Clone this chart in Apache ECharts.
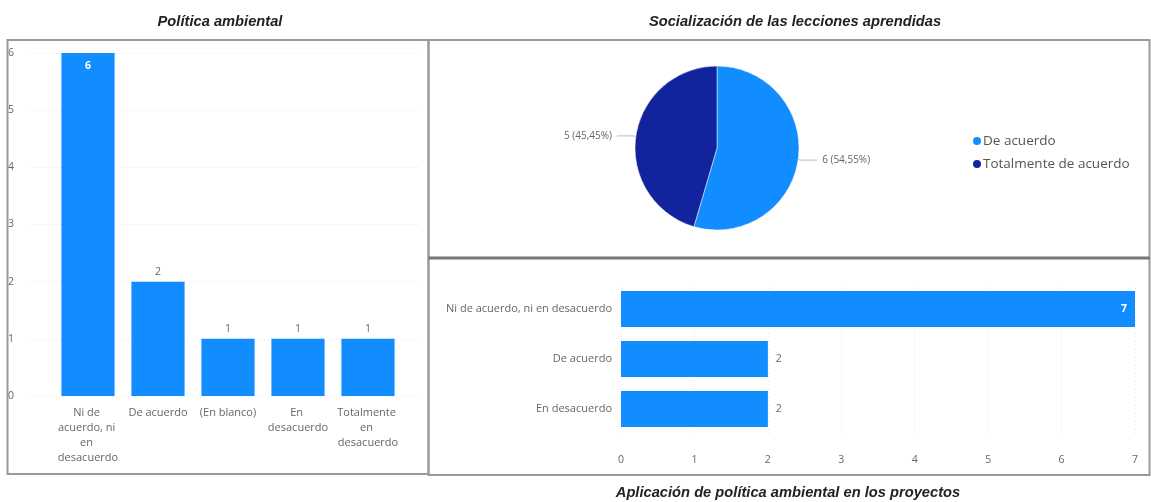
<!DOCTYPE html>
<html>
<head>
<meta charset="utf-8">
<script src="https://cdn.jsdelivr.net/npm/echarts@6/dist/echarts.min.js"></script>
<style>
html,body{margin:0;padding:0;background:#fff;}
#c{width:1151px;height:502px;}
</style>
</head>
<body>
<div id="c"></div>
<script>
// ---- Data ----
const politicaCats = ['Ni de acuerdo, ni en desacuerdo', 'De acuerdo', '(En blanco)', 'En desacuerdo', 'Totalmente en desacuerdo'];
const politicaVals = [6, 2, 1, 1, 1];
const politicaTicks = [0, 1, 2, 3, 4, 5, 6];

const socialNames = ['De acuerdo', 'Totalmente de acuerdo'];
const socialVals = [6, 5];

const aplicacionCats = ['Ni de acuerdo, ni en desacuerdo', 'De acuerdo', 'En desacuerdo'];
const aplicacionVals = [7, 2, 2];
const aplicacionTicks = [0, 1, 2, 3, 4, 5, 6, 7];

const titles = ['Política ambiental', 'Socialización de las lecciones aprendidas', 'Aplicación de política ambiental en los proyectos'];

// ---- Styles ----
const BLUE = '#118DFF';
const NAVY = '#12239E';
const FONT = '"Segoe UI", "Open Sans", "Noto Sans", sans-serif';
const TXT = '#666666';
const titleStyle = {fontFamily: '"Liberation Sans", Arial, sans-serif', fontSize: 14.7, fontWeight: 'bold', fontStyle: 'italic', color: '#222'};

const chart = echarts.init(document.getElementById('c'), null, {renderer: 'canvas'});

const pieData = socialNames.map((n, i) => ({name: n, value: socialVals[i]}));

const option = {
  animation: false,
  backgroundColor: '#fff',
  title: [
    {text: titles[0], left: 215, top: 9, textAlign: 'center', textStyle: titleStyle},
    {text: titles[1], left: 790, top: 9, textAlign: 'center', textStyle: titleStyle},
    {text: titles[2], left: 783, top: 480, textAlign: 'center', textStyle: titleStyle}
  ],
  legend: {
    data: socialNames,
    orient: 'vertical',
    left: 966, top: 129,
    icon: 'circle', itemWidth: 10, itemHeight: 10, itemGap: 9,
    textStyle: {fontFamily: FONT, fontSize: 13.5, color: '#555', padding: [0, 0, 0, -4]}
  },
  grid: [
    {left: 28, right: 1151 - 420, top: 53, bottom: 502 - 396, containLabel: false},
    {left: 53, right: 1151 - 403, top: 53, bottom: 502 - 396, containLabel: false},
    {left: 621, right: 1151 - 1135, top: 284, bottom: 502 - 434, containLabel: false}
  ],
  xAxis: [
    {gridIndex: 0, type: 'category', data: politicaCats, show: false},
    {gridIndex: 1, type: 'category', data: politicaCats,
      axisLine: {show: false}, axisTick: {show: false},
      axisLabel: {interval: 0, margin: 9, color: TXT, fontFamily: FONT, fontSize: 11, lineHeight: 15, width: 66, overflow: 'break', align: 'center'}},
    {gridIndex: 2, type: 'value', min: 0, max: 7, interval: 1,
      axisLine: {show: false}, axisTick: {show: false},
      axisLabel: {margin: 21, color: TXT, fontFamily: FONT, fontSize: 10.5, formatter: v => aplicacionTicks.includes(v) ? String(v) : ''},
      splitLine: {show: true, lineStyle: {color: '#e6e6e6', type: [1, 3], width: 1}}}
  ],
  yAxis: [
    {gridIndex: 0, type: 'value', min: 0, max: 6, interval: 1,
      axisLine: {show: false}, axisTick: {show: false},
      axisLabel: {margin: 14, color: TXT, fontFamily: FONT, fontSize: 10.5, formatter: v => politicaTicks.includes(v) ? String(v) : ''},
      splitLine: {show: true, lineStyle: {color: '#e6e6e6', type: [1, 3], width: 1}}},
    {gridIndex: 1, type: 'value', min: 0, max: 6, interval: 1, show: false, splitLine: {show: false}},
    {gridIndex: 2, type: 'category', data: aplicacionCats, inverse: true,
      axisLine: {show: false}, axisTick: {show: false},
      axisLabel: {margin: 9, color: TXT, fontFamily: FONT, fontSize: 11}}
  ],
  series: [
    {
      type: 'bar', xAxisIndex: 1, yAxisIndex: 1,
      data: politicaVals.map(v => v === Math.max(...politicaVals)
        ? {value: v, label: {position: 'insideTop', color: '#fff', fontWeight: 'bold', distance: 8}}
        : v),
      barWidth: '76%',
      itemStyle: {color: BLUE},
      label: {show: true, position: 'top', distance: 4, color: TXT, fontFamily: FONT, fontSize: 10.5}
    },
    {
      type: 'pie', center: [717, 148], radius: 82, startAngle: 90, clockwise: true,
      data: pieData,
      color: [BLUE, NAVY],
      label: {show: true, color: TXT, fontFamily: FONT, fontSize: 10,
        formatter: p => p.value + ' (' + p.percent.toFixed(2).replace('.', ',') + '%)'},
      labelLine: {show: true, length: 3, length2: 16, lineStyle: {color: '#bbb', width: 1}},
      itemStyle: {borderColor: '#fff', borderWidth: 0.5},
      emphasis: {disabled: true}
    },
    {
      type: 'bar', xAxisIndex: 2, yAxisIndex: 2,
      data: aplicacionVals.map(v => v === Math.max(...aplicacionVals)
        ? {value: v, label: {position: 'insideRight', color: '#fff', fontWeight: 'bold', distance: 8}}
        : v),
      barWidth: 36,
      itemStyle: {color: BLUE},
      label: {show: true, position: 'right', distance: 8, color: TXT, fontFamily: FONT, fontSize: 10.5}
    }
  ],
  graphic: [
    {type: 'rect', shape: {x: 7.5, y: 40, width: 421, height: 434}, style: {fill: 'none', stroke: '#9a9a9a', lineWidth: 2}, z: 100},
    {type: 'rect', shape: {x: 428.5, y: 40, width: 721, height: 435}, style: {fill: 'none', stroke: '#9a9a9a', lineWidth: 2}, z: 100},
    {type: 'line', shape: {x1: 428.5, y1: 258, x2: 1150, y2: 258}, style: {stroke: '#777', lineWidth: 3}, z: 100}
  ]
};

chart.setOption(option);
</script>
</body>
</html>
